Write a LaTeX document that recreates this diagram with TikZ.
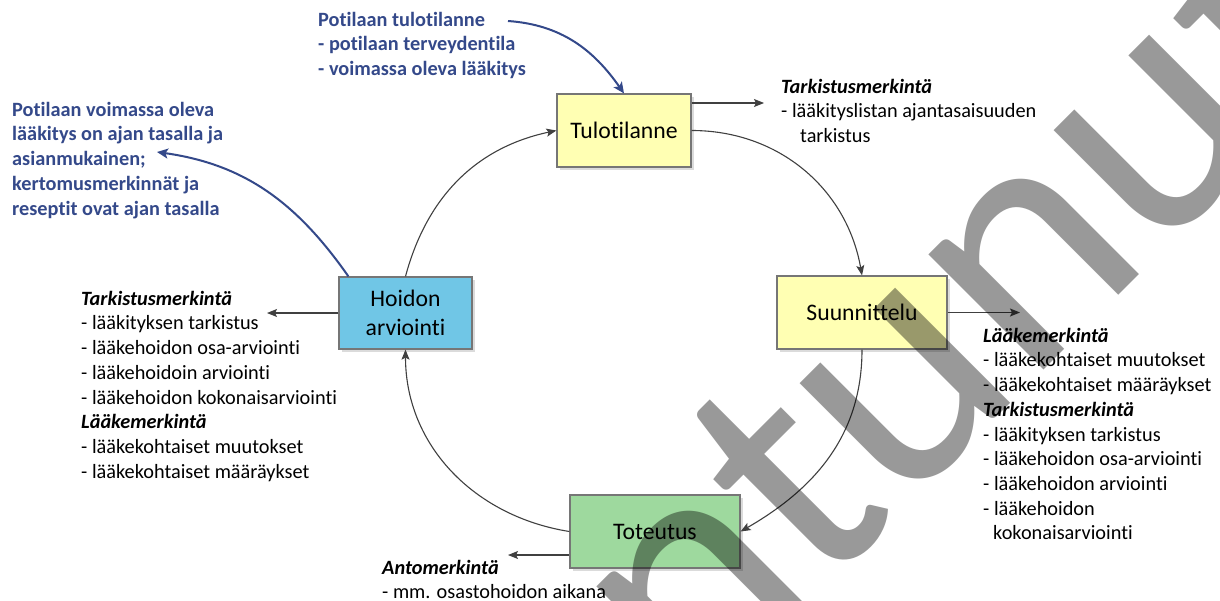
\documentclass[tikz,border=0pt]{standalone}
\usepackage{fontspec}
\setmainfont{Carlito}[Ligatures=NoCommon]
\newfontfamily\wmfont{Carlito}[Ligatures=NoCommon]
\usetikzlibrary{arrows.meta,shadows}
\definecolor{boxyellow}{HTML}{FFFFB3}
\definecolor{boxgreen}{HTML}{9ED99E}
\definecolor{boxblue}{HTML}{70C6E6}
\definecolor{boxborder}{HTML}{767676}
\definecolor{linegray}{HTML}{404040}
\definecolor{bluetxt}{HTML}{34498A}
\definecolor{wmgray}{HTML}{999999}
\begin{document}
\begin{tikzpicture}[x=1pt,y=-1pt,
  box/.style={draw=boxborder, line width=1.2pt, inner sep=0pt, align=center,
    font=\fontsize{23.7}{29}\selectfont,
    drop shadow={shadow xshift=2.5pt, shadow yshift=-2.5pt, fill=black!40, opacity=0.35}},
  flow/.style={draw=linegray, line width=1.1pt, -{Stealth[length=10pt,width=8pt,inset=2pt]}},
  bflow/.style={draw=bluetxt, line width=2pt, -{Stealth[length=11pt,width=10pt,inset=2.5pt]}},
  txt/.style={align=left, anchor=north west, inner sep=0pt, font=\fontsize{20.3}{24.7}\selectfont},
  btxt/.style={txt, text=bluetxt, font=\fontsize{20.3}{24.7}\selectfont\bfseries},
  watermark/.style={rotate=45, anchor=base, inner sep=0pt, text=wmgray, font=\wmfont\fontsize{341}{341}\selectfont}]
\useasboundingbox (0,0) rectangle (1220,600);
\fill[white] (0,0) rectangle (1220,600);

% boxes
\node[box, fill=boxyellow, minimum width=134pt, minimum height=73pt] (tulo) at (624,130.5) {Tulotilanne};
\node[box, fill=boxyellow, minimum width=170pt, minimum height=73pt] (suun) at (862,312.5) {Suunnittelu};
\node[box, fill=boxgreen, minimum width=170pt, minimum height=73pt] (tot) at (655,531.5) {Toteutus};
\node[box, fill=boxblue, minimum width=133pt, minimum height=72pt] (hoid) at (405.5,313) {Hoidon\\arviointi};

% texts
\node[btxt] (ptxt) at (318,11) {\rule{0pt}{15pt}Potilaan tulotilanne\\- potilaan terveydentila\\- voimassa oleva lääkitys};
\node[btxt] (gtxt) at (12,101) {\rule{0pt}{15pt}Potilaan voimassa oleva\\lääkitys on ajan tasalla ja\\asianmukainen;\\kertomusmerkinnät ja\\reseptit ovat ajan tasalla};
\node[txt] (trtxt) at (781,78) {\rule{0pt}{15pt}\textbf{\textit{Tarkistusmerkintä}}\\- lääkityslistan ajantasaisuuden\\\hspace*{19pt}tarkistus};
\node[txt] (rtxt) at (983,327) {\rule{0pt}{15pt}\textbf{\textit{Lääkemerkintä}}\\- lääkekohtaiset muutokset\\- lääkekohtaiset määräykset\\\textbf{\textit{Tarkistusmerkintä}}\\- lääkityksen tarkistus\\- lääkehoidon osa-arviointi\\- lääkehoidon arviointi\\- lääkehoidon\\\hspace*{10pt}kokonaisarviointi};
\node[txt] (ltxt) at (81,290) {\rule{0pt}{15pt}\textbf{\textit{Tarkistusmerkintä}}\\- lääkityksen tarkistus\\- lääkehoidon osa-arviointi\\- lääkehoidoin arviointi\\- lääkehoidon kokonaisarviointi\\\textbf{\textit{Lääkemerkintä}}\\- lääkekohtaiset muutokset\\- lääkekohtaiset määräykset};
\node[txt] (btxt) at (382,559) {\rule{0pt}{15pt}\textbf{\textit{Antomerkintä}}\\- mm. osastohoidon aikana};

% free ends
\coordinate (bstart) at (508,21);
\coordinate (btip) at (157,152);
\coordinate (o1) at (764,103);
\coordinate (o2) at (1020,312.5);
\coordinate (o3) at (267,313);
\coordinate (o4) at (508,555);

% cycle
\draw[flow] (tulo.east) to[out=0, in=100] (suun.north);
\draw[flow] (suun.south) to[out=-90, in=30] (tot.east);
\draw[flow] (tot.west) to[out=171, in=-90] (hoid.south);
\draw[flow] (hoid.north) to[out=75, in=192] (tulo.west);

% outputs
\draw[flow] ([yshift=27.5pt]tulo.east) -- (o1);
\draw[flow] (suun.east) -- (o2);
\draw[flow] (hoid.west) -- (o3);
\draw[flow] ([yshift=-23.5pt]tot.west) -- (o4);

% blue
\draw[bflow] (bstart) to[out=-4, in=125] (tulo.north);
\draw[bflow] ([xshift=10pt]hoid.north west) to[out=125, in=-8] (btip);

% watermark
\begin{scope}[blend mode=multiply]
\clip (0,0) rectangle (1220,600);
\node[watermark] (wm) at (722.7,691.6) {Vanhentunut};
\end{scope}
\end{tikzpicture}
\end{document}
